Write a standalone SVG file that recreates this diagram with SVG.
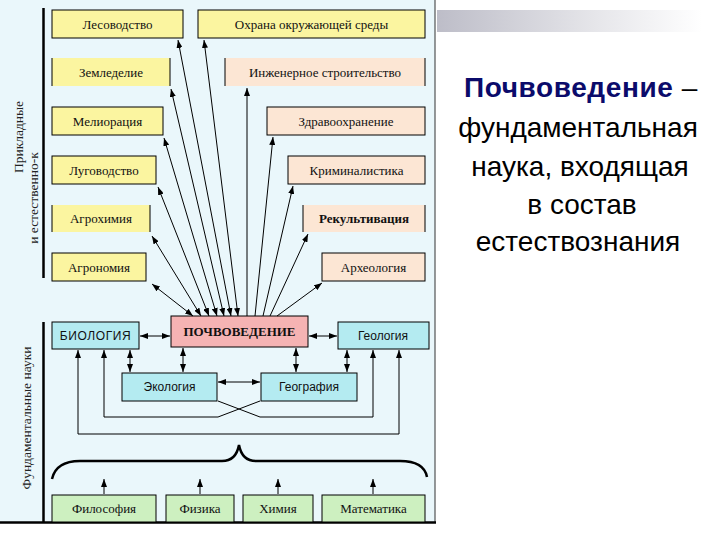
<svg xmlns="http://www.w3.org/2000/svg" width="720" height="540" viewBox="0 0 720 540">
<defs>
<linearGradient id="bar" x1="0" x2="1" y1="0" y2="0"><stop offset="0" stop-color="#bdbdc8"/><stop offset="0.6" stop-color="#e6e6ea"/><stop offset="1" stop-color="#ffffff"/></linearGradient>
<marker id="ah" viewBox="0 0 8 6" refX="8" refY="3" markerWidth="8" markerHeight="6" markerUnits="userSpaceOnUse" orient="auto-start-reverse"><path d="M0,0 L8,3 L0,6 z" fill="#000"/></marker>
<style>
.y{fill:#fbf5a0}
.p{fill:#fce6d4}
.c{fill:#b4ebf1}
.g{fill:#cdf0c0}
.k{fill:#f5b3b3}
.bd{stroke:#000;stroke-width:1}
.t{font-family:"Liberation Serif","Times New Roman",serif;font-size:13px;fill:#111;text-anchor:middle}
.s{font-family:"Liberation Sans",Arial,sans-serif;font-size:12px;fill:#111;text-anchor:middle}
.ln{fill:none;stroke:#000;stroke-width:1}
.a{marker-end:url(#ah)}
.aa{marker-start:url(#ah);marker-end:url(#ah)}
.side{font-family:"Liberation Serif","Times New Roman",serif;font-size:13.5px;fill:#222;text-anchor:middle}
.rt{font-family:"Liberation Sans",Arial,sans-serif;font-size:28px;fill:#000;text-anchor:middle}
</style>
</defs>
<rect width="720" height="540" fill="#fff"/>
<rect x="0" y="0" width="435" height="523" fill="#eaf7fb"/>
<rect x="437" y="10" width="265" height="22" fill="url(#bar)"/>
<line x1="435" y1="0" x2="435" y2="523" stroke="#333" stroke-width="1"/>
<line x1="43.5" y1="8" x2="43.5" y2="278" stroke="#000" stroke-width="2.5"/>
<line x1="43.5" y1="322" x2="43.5" y2="522" stroke="#000" stroke-width="2.5"/>
<line x1="0" y1="522.5" x2="436" y2="522.5" stroke="#000" stroke-width="2.5"/>
<text class="side" transform="translate(23,137) rotate(-90)">Прикладные</text>
<text class="side" transform="translate(38,198) rotate(-90)">и естественно-к</text>
<text class="side" transform="translate(31,418) rotate(-90)">Фундаментальные науки</text>

<g id="lesovodstvo"><rect class="y bd" x="52" y="10" width="131" height="28"/><text class="t" x="117.5" y="28.5">Лесоводство</text></g>
<g id="zemledelie"><rect class="y" x="52" y="58" width="118" height="28"/><line class="ln" x1="52" y1="58" x2="52" y2="86"/><line class="ln" x1="170" y1="58" x2="170" y2="86"/><text class="t" x="111" y="76.5">Земледелие</text></g>
<g id="melioratsiya"><rect class="y bd" x="52" y="107" width="111" height="28"/><text class="t" x="107.5" y="125.5">Мелиорация</text></g>
<g id="lugovodstvo"><rect class="y bd" x="52" y="156" width="104" height="28"/><text class="t" x="104" y="174.5">Луговодство</text></g>
<g id="agrokhimiya"><rect class="y" x="52" y="205" width="98" height="27"/><line class="ln" x1="52" y1="205" x2="52" y2="232"/><line class="ln" x1="150" y1="205" x2="150" y2="232"/><text class="t" x="101" y="223">Агрохимия</text></g>
<g id="agronomiya"><rect class="y bd" x="52" y="253" width="94" height="28"/><text class="t" x="99" y="271.5">Агрономия</text></g>

<g id="okhrana"><rect class="y bd" x="198" y="10" width="227" height="28"/><text class="t" x="311.5" y="28.5">Охрана окружающей среды</text></g>
<g id="inzhenernoe"><rect class="p" x="225" y="58" width="200" height="28"/><line class="ln" x1="225" y1="58" x2="225" y2="86"/><line class="ln" x1="425" y1="58" x2="425" y2="86"/><text class="t" x="325" y="76.5">Инженерное строительство</text></g>
<g id="zdravookhranenie"><rect class="p bd" x="267" y="107" width="158" height="28"/><text class="t" x="346" y="125.5">Здравоохранение</text></g>
<g id="kriminalistika"><rect class="p bd" x="288" y="156" width="137" height="28"/><text class="t" x="356.5" y="174.5">Криминалистика</text></g>
<g id="rekultivatsiya"><rect class="p" x="303" y="205" width="122" height="27"/><line class="ln" x1="303" y1="205" x2="303" y2="232"/><line class="ln" x1="425" y1="205" x2="425" y2="232"/><text class="t" x="364" y="223" font-weight="bold">Рекультивация</text></g>
<g id="arkheologiya"><rect class="p bd" x="322" y="253" width="103" height="28"/><text class="t" x="373.5" y="271.5">Археология</text></g>

<g id="pochvovedenie"><rect class="k bd" x="171" y="316" width="137" height="31"/><text class="t" x="239.5" y="336" font-weight="bold" font-size="13.5px">ПОЧВОВЕДЕНИЕ</text></g>
<g id="biologiya"><rect class="c bd" x="52" y="322" width="87" height="27"/><text class="s" x="95.5" y="340" font-size="12.5px" letter-spacing="0.6">БИОЛОГИЯ</text></g>
<g id="geologiya"><rect class="c bd" x="338" y="322" width="91" height="27"/><text class="s" x="383" y="340">Геология</text></g>
<g id="ekologiya"><rect class="c bd" x="122" y="373" width="95" height="28"/><text class="s" x="169.5" y="391">Экология</text></g>
<g id="geografiya"><rect class="c bd" x="261" y="373" width="96" height="28"/><text class="s" x="309" y="391">География</text></g>

<g id="filosofiya"><rect class="g bd" x="52" y="495" width="104" height="27"/><text class="t" x="104" y="513">Философия</text></g>
<g id="fizika"><rect class="g bd" x="166" y="495" width="68" height="27"/><text class="t" x="200" y="513">Физика</text></g>
<g id="khimiya"><rect class="g bd" x="243" y="495" width="70" height="27"/><text class="t" x="278" y="513">Химия</text></g>
<g id="matematika"><rect class="g bd" x="322" y="495" width="103" height="27"/><text class="t" x="373.5" y="513">Математика</text></g>

<g id="connectors">
<line class="ln aa" x1="193" y1="316" x2="152" y2="284"/>
<line class="ln aa" x1="201" y1="316" x2="152" y2="236"/>
<line class="ln aa" x1="209" y1="316" x2="158" y2="187"/>
<line class="ln aa" x1="217" y1="316" x2="164" y2="138"/>
<line class="ln aa" x1="224" y1="316" x2="171" y2="89"/>
<line class="ln aa" x1="231" y1="316" x2="178" y2="40"/>
<line class="ln aa" x1="238" y1="316" x2="204" y2="40"/>
<line class="ln a" x1="247" y1="316" x2="247" y2="88"/>
<line class="ln a" x1="255" y1="316" x2="273" y2="137"/>
<line class="ln a" x1="263" y1="316" x2="293" y2="186"/>
<line class="ln a" x1="270" y1="316" x2="308" y2="234"/>
<line class="ln a" x1="277" y1="316" x2="322" y2="283"/>

<line class="ln aa" x1="140" y1="336" x2="170" y2="336"/>
<line class="ln aa" x1="309" y1="336" x2="337" y2="336"/>
<line class="ln aa" x1="218" y1="382" x2="260" y2="382"/>
<line class="ln aa" x1="130" y1="350" x2="130" y2="372"/>
<line class="ln aa" x1="183" y1="348" x2="183" y2="372"/>
<line class="ln aa" x1="296" y1="348" x2="296" y2="372"/>
<line class="ln aa" x1="347" y1="350" x2="347" y2="372"/>

<polyline class="ln aa" points="78,350 78,434 399,434 399,350"/>
<polyline class="ln" points="104,350 104,417 218,417 260,401" marker-start="url(#ah)"/>
<polyline class="ln a" points="218,401 260,417 373,417 373,350"/>

<path d="M52,479 Q56,461 80,461 L222,461 Q236,461 239,445 Q242,461 256,461 L400,461 Q424,461 427,477" fill="none" stroke="#000" stroke-width="2.5"/>

<line class="ln a" x1="104" y1="494" x2="104" y2="479"/>
<line class="ln a" x1="200" y1="494" x2="200" y2="479"/>
<line class="ln a" x1="278" y1="494" x2="278" y2="479"/>
<line class="ln a" x1="373" y1="494" x2="373" y2="479"/>
</g>

<g id="caption">
<text class="rt" x="581" y="97" font-size="30px" letter-spacing="0.6"><tspan font-weight="bold" fill="#0b0b6b">Почвоведение</tspan> –</text>
<text class="rt" x="578" y="137">фундаментальная</text>
<text class="rt" x="580" y="176">наука, входящая</text>
<text class="rt" x="582" y="214">в состав</text>
<text class="rt" x="578" y="251">естествознания</text>
</g>
</svg>
